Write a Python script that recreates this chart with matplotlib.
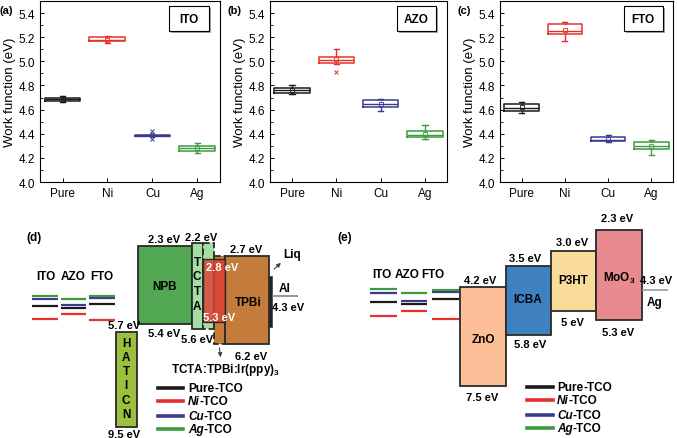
import matplotlib.pyplot as plt
from matplotlib import patheffects
from matplotlib.patches import Rectangle
from matplotlib.lines import Line2D
from matplotlib.ticker import MultipleLocator

plt.rcParams['font.family'] = ['Liberation Sans', 'DejaVu Sans']
plt.rcParams['mathtext.fontset'] = 'custom'
plt.rcParams['mathtext.rm'] = 'Liberation Sans'
plt.rcParams['mathtext.bf'] = 'Liberation Sans:bold'

W, H = 677, 439

dopants = ['Pure', 'Ni', 'Cu', 'Ag']
dopant_colors = ['#1a1a1a', '#e8302a', '#3b3a8e', '#3c9b3c']

# work function stats per dopant: (whislo, q1, med, q3, whishi, mean, fliers)
ito_stats = [(4.66, 4.67, 4.69, 4.70, 4.71, 4.69, []),
             (5.15, 5.17, 5.18, 5.20, 5.21, 5.18, []),
             (4.38, 4.38, 4.385, 4.39, 4.39, 4.39, [4.42, 4.36]),
             (4.24, 4.26, 4.28, 4.30, 4.32, 4.28, [])]
azo_stats = [(4.73, 4.74, 4.76, 4.78, 4.80, 4.76, []),
             (4.98, 4.99, 5.01, 5.04, 5.10, 5.02, [4.91]),
             (4.59, 4.62, 4.65, 4.68, 4.69, 4.65, []),
             (4.36, 4.37, 4.39, 4.42, 4.47, 4.40, [])]
fto_stats = [(4.57, 4.59, 4.61, 4.65, 4.66, 4.62, []),
             (5.17, 5.23, 5.25, 5.31, 5.33, 5.26, []),
             (4.33, 4.34, 4.35, 4.37, 4.39, 4.36, []),
             (4.22, 4.27, 4.30, 4.33, 4.35, 4.30, [])]

# (d) OLED energy levels (LUMO, HOMO), eV
hatcn = (5.7, 9.5)
npb = (2.3, 5.4)
tcta = (2.2, 5.6)
eml = (2.8, 5.3)
tpbi = (2.7, 6.2)
liq = (3.5, 5.5)
al_wf = 4.3

# (e) solar cell energy levels (LUMO, HOMO), eV
zno = (4.2, 7.5)
icba = (3.5, 5.8)
p3ht = (3.0, 5.0)
moo3 = (2.3, 5.3)
ag_wf = 4.3

fig = plt.figure(figsize=(W / 100, H / 100), dpi=100)


def px_axes(x0, y0, x1, y1):
    return fig.add_axes([x0 / W, 1 - y1 / H, (x1 - x0) / W, (y1 - y0) / H])


def ftxt(x, y, s, **kw):
    kw.setdefault('ha', 'center')
    kw.setdefault('va', 'center')
    kw.setdefault('fontsize', 8)
    kw.setdefault('fontweight', 'bold')
    return fig.text(x / W, 1 - y / H, s, **kw)


# ---- top row: box plots
panels = [('ITO', ito_stats, '(a)', 40, 220, 0),
          ('AZO', azo_stats, '(b)', 270, 447, 227),
          ('FTO', fto_stats, '(c)', 500, 673, 457)]
for name, stats, tag, x0, x1, tx in panels:
    ax = px_axes(x0, 2, x1, 183)
    for i, (lo, q1, med, q3, hi, mean, fl) in enumerate(stats):
        c = dopant_colors[i]
        ax.bxp([dict(whislo=lo, q1=q1, med=med, q3=q3, whishi=hi, mean=mean, fliers=fl)],
               positions=[i + 1], widths=0.8, capwidths=0.12, showmeans=True,
               boxprops=dict(color=c, lw=1.1), medianprops=dict(color=c, lw=1.0),
               whiskerprops=dict(color=c, lw=1.0), capprops=dict(color=c, lw=1.0),
               meanprops=dict(marker='s', ms=2.5, mfc='none', mec=c, mew=0.6),
               flierprops=dict(marker='x', ms=3, mec=c, mew=0.7))
    ax.set_xlim(0.5, 4.5)
    ax.set_xticks(range(1, 5), dopants)
    ax.set_ylim(4.0, 5.5)
    ax.yaxis.set_major_locator(MultipleLocator(0.2))
    ax.yaxis.set_minor_locator(MultipleLocator(0.1))
    ax.yaxis.set_major_formatter('{x:.1f}')
    ax.tick_params(direction='in', labelsize=8.5, length=3, width=0.7)
    ax.tick_params(which='minor', direction='in', length=2, width=0.6)
    ax.set_ylabel('Work function (eV)', fontsize=9.5, labelpad=2)
    for s in ax.spines.values():
        s.set_linewidth(0.8)
    box = Rectangle((0.715, 0.834), 0.225, 0.138, transform=ax.transAxes,
                    fc='white', ec='black', lw=0.8, zorder=5)
    box.set_path_effects([patheffects.SimplePatchShadow(offset=(1.5, -1.5), alpha=0.5),
                          patheffects.Normal()])
    ax.add_patch(box)
    ax.text(0.8275, 0.903, name, transform=ax.transAxes, ha='center', va='center',
            fontsize=8.5, fontweight='bold', zorder=6)
    ftxt(tx, 11, tag, ha='left', fontsize=8)


def layer(ax, x0, x1, lev, fc, ls='-', z=2, lw=1.3):
    ax.add_patch(Rectangle((x0, lev[0]), x1 - x0, lev[1] - lev[0], fc=fc,
                           ec='#2a2a2a', lw=lw, ls=ls, zorder=z))


def tco_lines(ax, cols):
    for (x0, x1), stats in zip(cols, [ito_stats, azo_stats, fto_stats]):
        for i, st in enumerate(stats):
            ax.hlines(st[2], x0, x1, color=dopant_colors[i], lw=1.6, zorder=3)


def legend_rows(x0, x1, tx, ys, ax):
    for i, y in enumerate(ys):
        fig.add_artist(Line2D([x0 / W, x1 / W], [1 - y / H] * 2, transform=fig.transFigure,
                              color=dopant_colors[i], lw=2.6))
        t = ftxt(tx, y, dopants[i], ha='left', fontsize=8.5,
                 style='normal' if i == 0 else 'italic')
        ax.annotate('-TCO', xy=(1, 0), xycoords=t, ha='left', va='bottom',
                    fontsize=8.5, fontweight='bold', annotation_clip=False)


# ---- (d) OLED diagram
def ev_d(py):
    return (py - 189) / 25.2


axd = px_axes(0, 190, 335, 439)
axd.set_xlim(0, 335)
axd.set_ylim(ev_d(439), ev_d(190))
axd.axis('off')
layer(axd, 116, 137, hatcn, '#9dbf3f')
layer(axd, 138, 192, npb, '#52a852')
layer(axd, 192, 203, tcta, '#a3dea3')
layer(axd, 203, 214, tcta, '#a3dea3', ls='--')
layer(axd, 214, 225, tpbi, '#c47c3c', ls='--')
axd.add_patch(Rectangle((203, eml[0]), 22, eml[1] - eml[0], fc=(0.86, 0.25, 0.2, 0.82),
                        ec='#2a2a2a', lw=1.0, zorder=3))
layer(axd, 225, 269, tpbi, '#c47c3c')
layer(axd, 269, 272, liq, '#222222', lw=0.4)
axd.hlines(al_wf, 272, 298, color='#888888', lw=1.2)
tco_lines(axd, [(32, 58), (61, 86), (89, 115)])
axd.annotate('', xy=(283, ev_d(262)), xytext=(272, ev_d(272)),
             arrowprops=dict(arrowstyle='-|>', color='#444444', lw=0.8, mutation_scale=6))
axd.annotate('', xy=(221, ev_d(361)), xytext=(219, ev_d(346)),
             arrowprops=dict(arrowstyle='-|>', color='#444444', lw=0.8, mutation_scale=6))

for s, x, y in [('ITO', 46, 277), ('AZO', 73, 277), ('FTO', 102, 277),
                ('NPB', 165, 287), ('TPBi', 248, 303), ('Liq', 292, 255), ('Al', 285, 289),
                ('(d)', 34, 238)]:
    ftxt(x, y, s, fontsize=8.5)
for s, x, y in [('2.3 eV', 164, 240), ('2.2 eV', 201, 238), ('2.7 eV', 246, 250),
                ('5.4 eV', 164, 334), ('5.6 eV', 197, 340), ('5.7 eV', 124, 326),
                ('6.2 eV', 251, 357), ('9.5 eV', 124, 435), ('4.3 eV', 288, 308)]:
    ftxt(x, y, s)
ftxt(222, 268, '2.8 eV', color='white', zorder=10)
ftxt(219, 318, '5.3 eV', color='white', zorder=10)
ftxt(225, 370, r'TCTA:TPBi:Ir(ppy)$_\mathbf{3}$', fontsize=8.5)
for ch, y in zip('HATICN', [344, 358, 372, 386, 401, 415]):
    ftxt(126, y, ch, fontsize=8.5)
for ch, y in zip('TCTA', [263, 277, 292, 307]):
    ftxt(197, y, ch, fontsize=8.5)
legend_rows(158, 183, 188, [389, 402, 417, 430], axd)


# ---- (e) solar cell diagram
def ev_e(py):
    return (py - 162) / 30


axe = px_axes(335, 190, 677, 439)
axe.set_xlim(335, 677)
axe.set_ylim(ev_e(439), ev_e(190))
axe.axis('off')
layer(axe, 460, 506, zno, '#fdbf97')
layer(axe, 506, 551, icba, '#3f80c0')
layer(axe, 551, 596, p3ht, '#f9dc9a')
layer(axe, 596, 642, moo3, '#e88a8e')
axe.hlines(ag_wf, 642, 668, color='#999999', lw=1.2)
tco_lines(axe, [(370, 397), (401, 427), (432, 459)])

for s, x, y in [('ITO', 382, 275), ('AZO', 407, 275), ('FTO', 433, 275),
                ('ZnO', 483, 340), ('ICBA', 528, 300), ('P3HT', 573, 281),
                (r'MoO$_\mathbf{3}$', 619, 278), ('Ag', 655, 303), ('(e)', 345, 238)]:
    ftxt(x, y, s, fontsize=8.5)
for s, x, y in [('4.2 eV', 480, 281), ('3.5 eV', 525, 259), ('3.0 eV', 572, 243),
                ('2.3 eV', 617, 219), ('5.8 eV', 530, 345), ('5 eV', 572, 323),
                ('5.3 eV', 618, 333), ('7.5 eV', 482, 398), ('4.3 eV', 656, 281)]:
    ftxt(x, y, s)
legend_rows(527, 553, 557, [388, 401, 416, 429], axe)

fig.savefig('out.png', dpi=100)
